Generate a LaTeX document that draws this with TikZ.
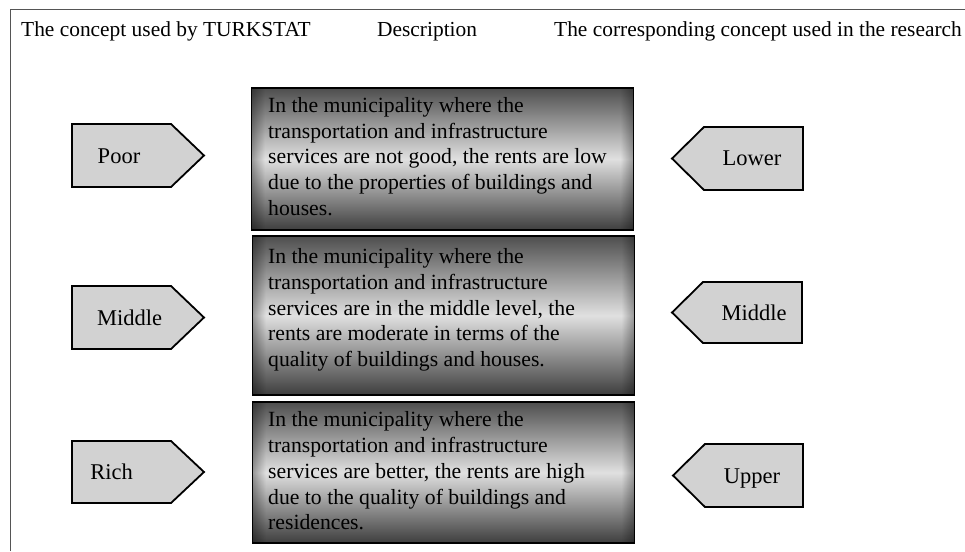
\documentclass[tikz,border=0pt]{standalone}
\usepackage{fontspec}
\setmainfont{Liberation Serif}
\usetikzlibrary{fadings}
\tikzfading[name=fadetoright, left color=transparent!65, right color=transparent!100]
\tikzfading[name=fadetoleft, left color=transparent!100, right color=transparent!65]
\definecolor{arrowfill}{HTML}{D2D2D2}
\definecolor{boxtop}{HTML}{4E4E4E}
\definecolor{boxmid}{HTML}{E0E0E0}
\definecolor{boxbot}{HTML}{3E3E3E}
\definecolor{framegray}{HTML}{555555}
\begin{document}
\begin{tikzpicture}[x=1pt,y=-1pt,
  header/.style={anchor=base west, inner sep=0pt, font=\fontsize{21.4}{25}\selectfont},
  descbox/.style={draw=black, line width=1.8pt, top color=boxtop, bottom color=boxbot, middle color=boxmid, minimum width=382pt, inner sep=0pt},
  edgeband/.style={fill=black},
  desctext/.style={anchor=west, inner sep=0pt, align=left, font=\fontsize{21.7}{25.8}\selectfont},
  tag/.style={draw=black, line width=1.8pt, fill=arrowfill, line join=miter},
  taglabel/.style={anchor=base, inner sep=0pt, font=\fontsize{22.5}{26}\selectfont}]
\useasboundingbox (0,0) rectangle (965,551);
\fill[white] (0,0) rectangle (965,551);
% frame
\draw[framegray, line width=1pt] (10,551) -- (10,10) -- (965,10);
% headers
\node[header] (h1) at (21,37) {The concept used by TURKSTAT};
\node[header] (h2) at (377,37) {Description};
\node[header] (h3) at (554,37) {The corresponding concept used in the research};
% description boxes
\node[descbox, minimum height=142pt] (d1) at (442.5,159) {};
\node[descbox, minimum height=159pt] (d2) at (443.5,315.5) {};
\node[descbox, minimum height=141pt] (d3) at (443.5,472.5) {};
\foreach \b in {d1,d2,d3}{
  \fill[edgeband, path fading=fadetoright] (\b.north west) rectangle ([xshift=14pt]\b.south west);
  \fill[edgeband, path fading=fadetoleft] ([xshift=-14pt]\b.north east) rectangle (\b.south east);
}
\node[desctext] (t1) at (268,156.5) {In the municipality where the\\transportation and infrastructure\\services are not good, the rents are low\\due to the properties of buildings and\\houses.};
\node[desctext] (t2) at (268,310) {In the municipality where the\\transportation and infrastructure\\services are in the middle level, the\\rents are moderate in terms of the\\quality of buildings and houses.};
\node[desctext] (t3) at (268,471) {In the municipality where the\\transportation and infrastructure\\services are better, the rents are high\\due to the quality of buildings and\\residences.};
% left tags
\draw[tag] (72,124) -- (171,124) -- (204,155.5) -- (171,187) -- (72,187) -- cycle;
\draw[tag] (72,286) -- (171,286) -- (204,317.5) -- (171,349) -- (72,349) -- cycle;
\draw[tag] (72,441) -- (171,441) -- (204,472) -- (171,503) -- (72,503) -- cycle;
\node[taglabel] (l1) at (119,163) {Poor};
\node[taglabel] (l2) at (129.5,325) {Middle};
\node[taglabel] (l3) at (111.5,479) {Rich};
% right tags
\draw[tag] (803,127) -- (704,127) -- (672,158.5) -- (704,190) -- (803,190) -- cycle;
\draw[tag] (802,282) -- (703,282) -- (672,312.5) -- (703,343) -- (802,343) -- cycle;
\draw[tag] (803,444) -- (705,444) -- (673,475.5) -- (705,507) -- (803,507) -- cycle;
\node[taglabel] (r1) at (752,165) {Lower};
\node[taglabel] (r2) at (754,320) {Middle};
\node[taglabel] (r3) at (752,483) {Upper};
\end{tikzpicture}
\end{document}
